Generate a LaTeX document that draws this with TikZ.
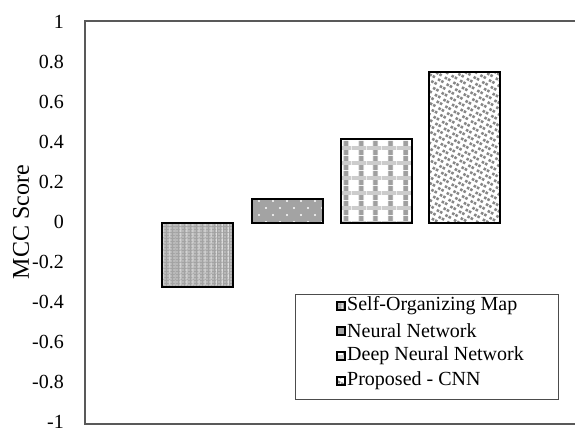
\documentclass[tikz,border=0pt]{standalone}
\usepackage{fontspec}
\setmainfont{Liberation Serif}
\usetikzlibrary{patterns, patterns.meta, positioning}

\tikzset{
  frameline/.style={draw=black!65, line width=1.3bp},
  bar/.style={draw=black, line width=2bp},
  swatch/.style={draw=black, line width=1.6bp},
  ticklabel/.style={anchor=east, inner sep=0pt, font=\fontsize{20bp}{24bp}\selectfont},
  legendtext/.style={anchor=west, inner sep=0pt, font=\fontsize{20bp}{24bp}\selectfont},
  somfill/.style={preaction={fill=gray!72},
    preaction={pattern={Lines[angle=90, distance=6bp, line width=1.2bp]}, pattern color=gray!30},
    preaction={pattern={Dots[distance=3bp, radius=0.6bp]}, pattern color=white}},
  nnfill/.style={preaction={fill=gray!72},
    preaction={pattern={Dots[distance=14bp, radius=1.1bp]}, pattern color=white},
    preaction={pattern={Dots[distance=14bp, radius=1.1bp, xshift=7bp, yshift=7bp]}, pattern color=white}},
  dnnfill/.style={preaction={fill=white},
    preaction={pattern={Lines[angle=90, distance=15bp, line width=5bp]}, pattern color=gray!75},
    preaction={pattern={Lines[angle=0, distance=15bp, line width=4bp]}, pattern color=gray!40}},
  cnnfill/.style={preaction={fill=white},
    preaction={pattern={Dots[angle=15, distance=7bp, radius=1.8bp]}, pattern color=black!47},
    preaction={pattern={Dots[angle=15, distance=7bp, radius=1.8bp, xshift=3.5bp, yshift=3.5bp]}, pattern color=black!47}}
}

\begin{document}
\begin{tikzpicture}[x=1bp, y=-1bp]
\useasboundingbox (0,0) rectangle (575,432);

% plot frame, open on the right
\draw[frameline] (575,21) -- (85,21) -- (85,424) -- (575,424);

% y axis
\foreach \v [count=\i] in {1,0.8,0.6,0.4,0.2,0,-0.2,-0.4,-0.6,-0.8,-1}
  \node[ticklabel] (tick\i) at (64,{222-200*\v}) {\v};
\node[rotate=90, inner sep=0pt, font=\fontsize{24bp}{28bp}\selectfont] (ytitle) at (21,222) {MCC Score};

% bars
\foreach \x/\v/\st in {162/-0.32/somfill, 252/0.12/nnfill, 341/0.42/dnnfill, 429/0.75/cnnfill}
  \draw[bar, \st] (\x,223) rectangle ({\x+71},{223-201*\v});

% legend
\draw[draw=black!70, line width=1bp, fill=white] (295,294) rectangle (558,399);
\foreach \y/\st/\txt [count=\i] in {306/somfill/Self-Organizing Map, 331/nnfill/Neural Network,
    356/dnnfill/Deep Neural Network, 381/cnnfill/Proposed - CNN}{
  \draw[swatch, \st] (337,{\y-4}) rectangle ++(8,8);
  \node[legendtext] (entry\i) at (347,\y) {\txt};
}
\end{tikzpicture}
\end{document}
